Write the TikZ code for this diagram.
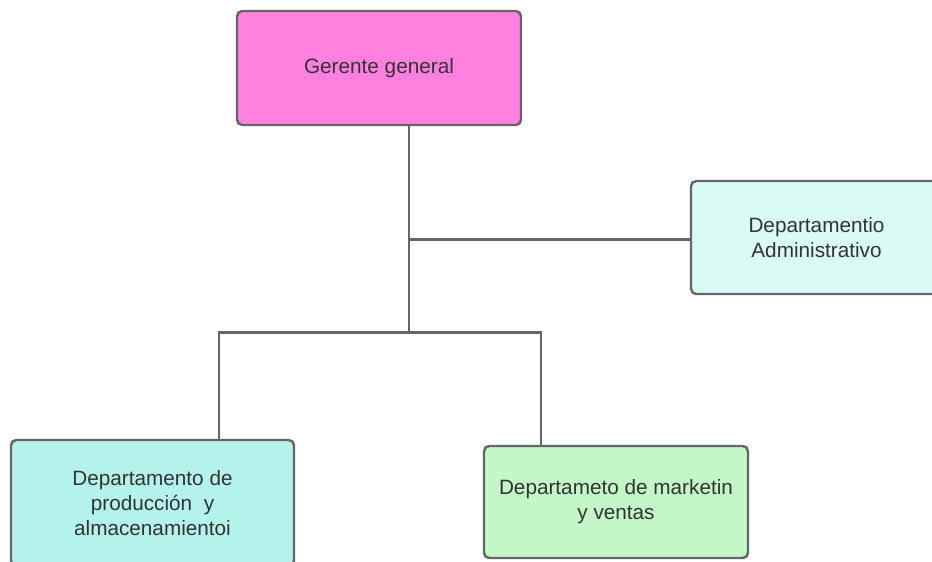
\documentclass[tikz,border=0pt]{standalone}
\usepackage{fontspec}
\setmainfont{Liberation Sans}
\usepackage{xcolor}
\usetikzlibrary{positioning,calc}

\definecolor{borde}{HTML}{666666}
\definecolor{texto}{HTML}{333333}
\definecolor{rosa}{HTML}{FF80DF}
\definecolor{celeste}{HTML}{DAFAF5}
\definecolor{turquesa}{HTML}{B3F3EC}
\definecolor{verde}{HTML}{C3F7C8}

\begin{document}
\begin{tikzpicture}[
		caja/.style={draw=borde, line width=1.4pt, rounded corners=3pt, align=center,
			text=texto, font=\fontsize{11.8}{14.2}\selectfont, inner sep=0pt},
		conector/.style={draw=borde, line width=1.7pt}
	]
		\useasboundingbox (0,0) rectangle (18.64,-11.22);

		\node[caja, fill=rosa, minimum width=5.68cm, minimum height=2.28cm] (gerente) at (7.58,-1.36) {Gerente general};
		\node[caja, fill=celeste, minimum width=5.02cm, minimum height=2.26cm] (admin) at (16.33,-4.75) {Departamentio\\Administrativo};
		\node[caja, fill=turquesa, minimum width=5.66cm, minimum height=2.52cm] (prod) at (3.05,-10.06) {Departamento de\\producción~~y\\almacenamientoi};
		\node[caja, fill=verde, minimum width=5.28cm, minimum height=2.24cm] (mkt) at (12.32,-10.04) {Departameto de marketin\\y ventas};

		% puntos de union
		\coordinate (jadm) at (8.18,-4.78);
		\coordinate (jbot) at (8.18,-6.64);
		\coordinate (jprod) at (4.38,-6.64);
		\coordinate (jmkt) at (10.82,-6.64);

		\draw[conector] (gerente.south -| jbot) -- (jbot);
		\draw[conector] (jadm) -- (jadm -| admin.west);
		\draw[conector] (jprod |- prod.north) -- (jprod) -- (jmkt) -- (jmkt |- mkt.north);
	\end{tikzpicture}
\end{document}
